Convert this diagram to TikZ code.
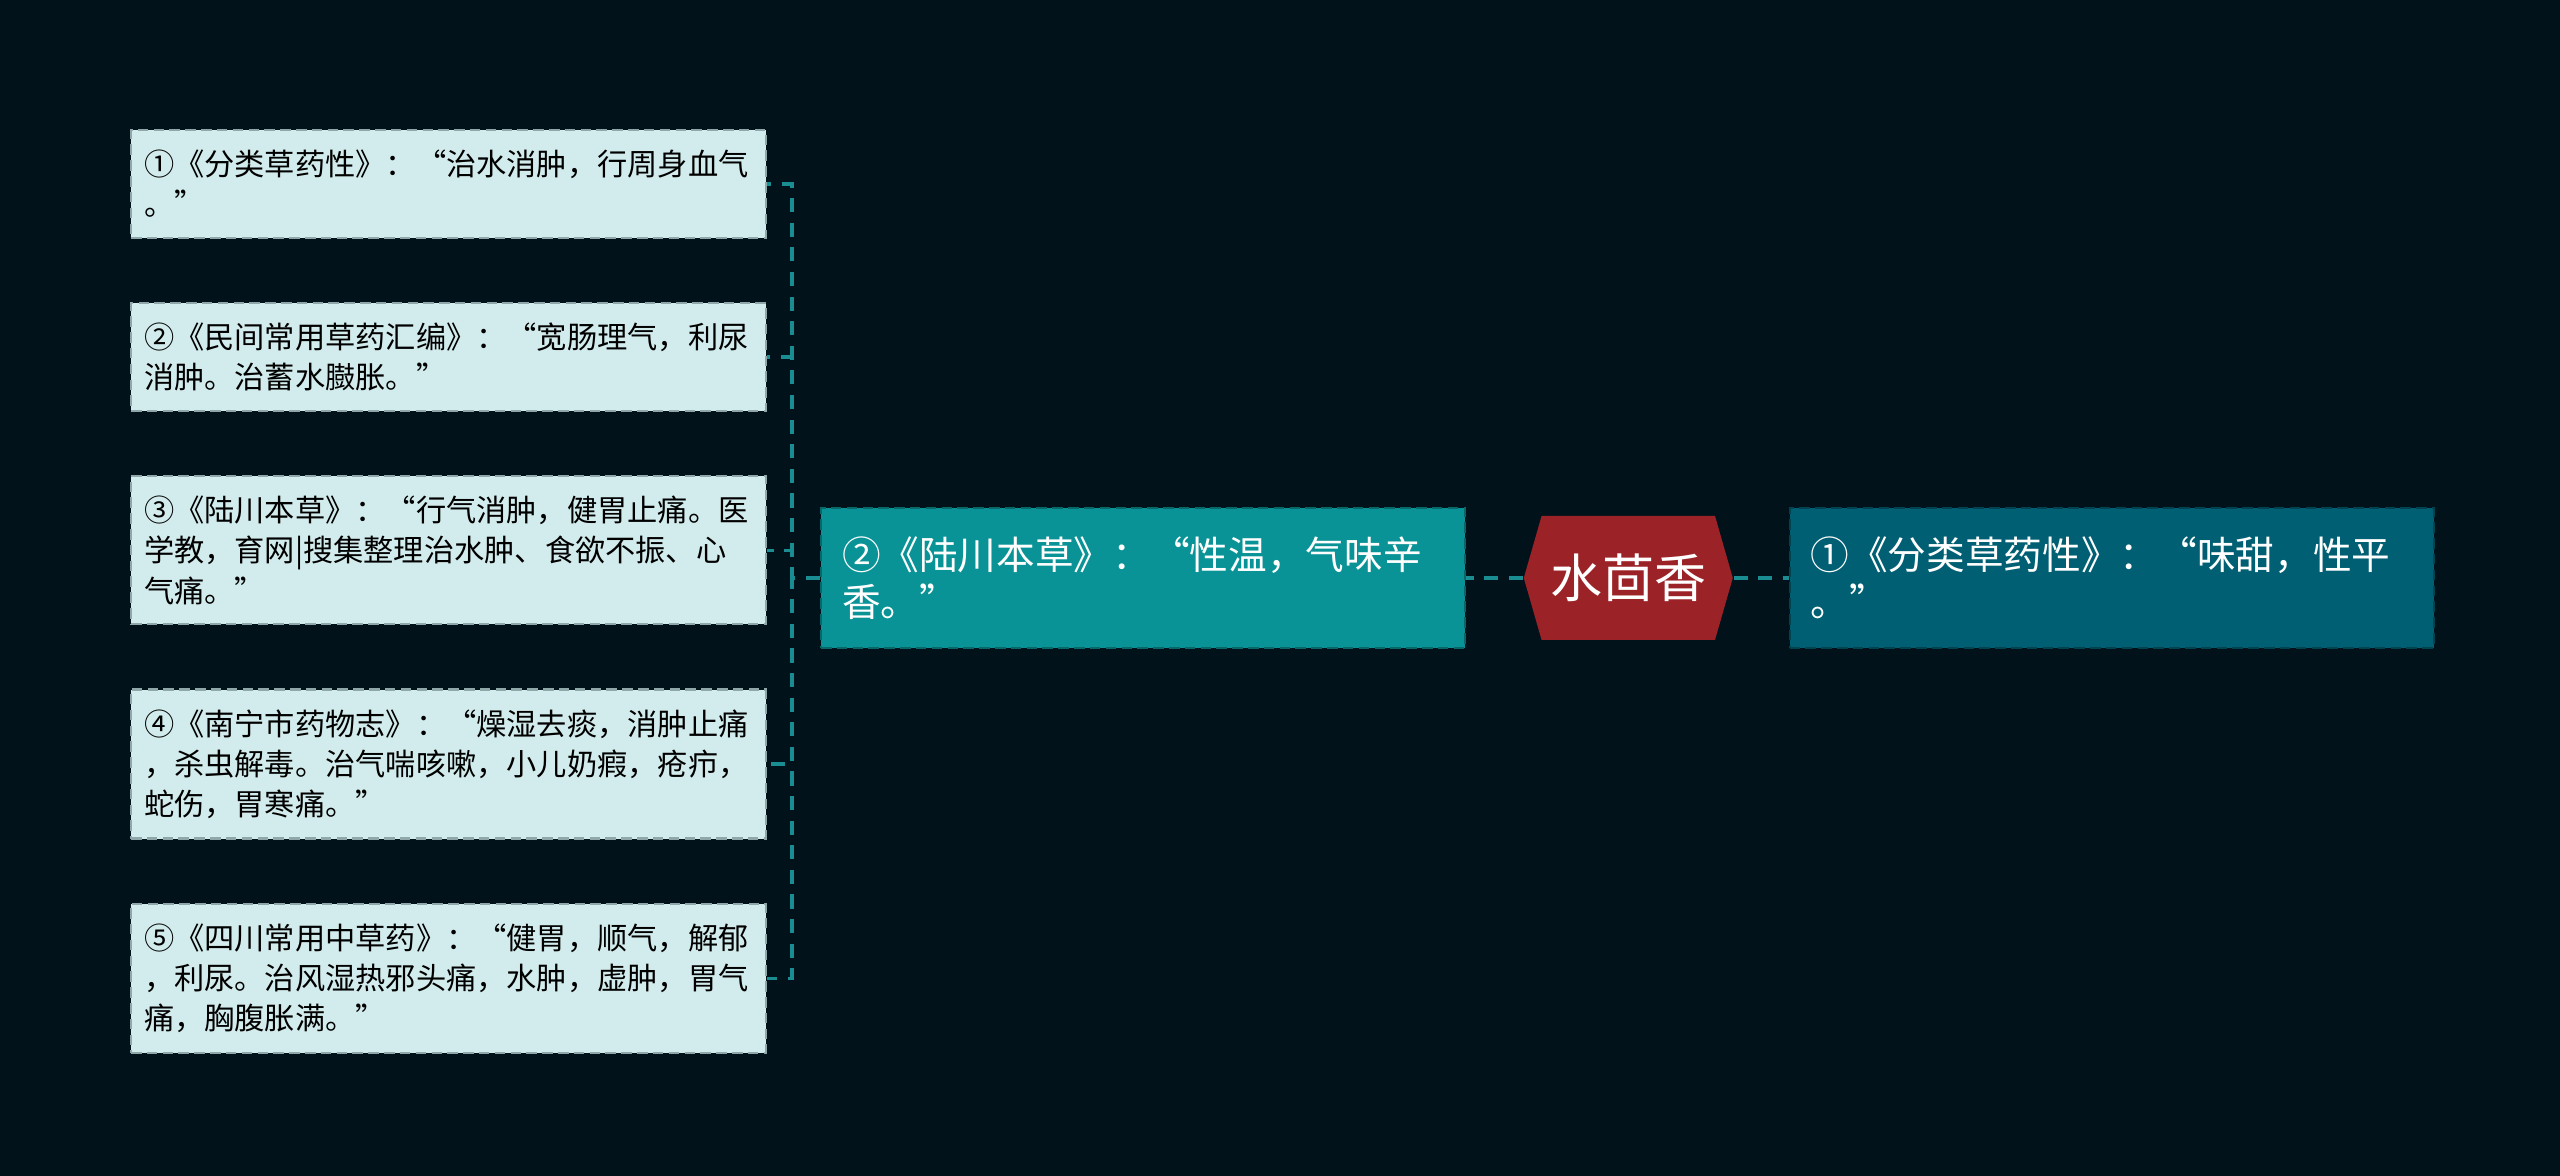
\documentclass[tikz,border=0pt]{standalone}
\usepackage{fontspec}
\setmainfont{Noto Sans CJK SC}
\usepackage{xcolor}
\usepackage{tikz}
\usetikzlibrary{positioning, shapes.symbols}
\definecolor{bgcolor}{HTML}{02121B}
\definecolor{leafcolor}{HTML}{D2EBEC}
\definecolor{leafline}{HTML}{8FA7A8}
\definecolor{midcolor}{HTML}{0A9396}
\definecolor{rightcolor}{HTML}{005F73}
\definecolor{rootcolor}{HTML}{9B2226}
\definecolor{linkcolor}{HTML}{1A8D93}

\tikzset{
  leafbox/.style={draw=leafline, fill=leafcolor, dash pattern=on 3pt off 1.5pt, line width=0.6pt,
    text width=6.09cm, inner xsep=0.13cm, inner ysep=0.2cm, align=left, text=black,
    font=\fontsize{8.6}{11.4}\selectfont},
  mainbox/.style={dash pattern=on 3pt off 1.5pt, line width=0.6pt, text=white,
    text width=6.02cm, inner xsep=0.21cm, minimum height=1.4cm, align=left,
    font=\fontsize{11}{13.4}\selectfont},
  rootnode/.style={shape=signal, signal to=east and west, signal pointer angle=148,
    fill=rootcolor, text=white, minimum width=2.09cm, minimum height=1.24cm,
    inner sep=0pt, font=\fontsize{14.8}{16}\selectfont},
  link/.style={draw=linkcolor, dash pattern=on 4pt off 3pt, line width=0.9pt}
}

\begin{document}
\begin{tikzpicture}
  % Background
  \fill[bgcolor] (0, 0) rectangle (25.6, 11.76);
  \useasboundingbox (0, 0) rectangle (25.6, 11.76);

  % Centre and first level
  \node[mainbox, draw=midcolor!70!black, fill=midcolor] (mid) at (11.43, 5.98)
    {②《陆川本草》：“性温，气味辛\\香。”};
  \node[rootnode, right=0.57cm of mid] (root) {水茴香};
  \node[mainbox, draw=rightcolor!70!black, fill=rightcolor, right=0.55cm of root] (right)
    {①《分类草药性》：“味甜，性平\\。”};

  % Leaves
  \node[leafbox] (leaf1) at (4.485, 9.92)
    {①《分类草药性》：“治水消肿，行周身血气\\。”};
  \node[leafbox, below=0.63cm of leaf1] (leaf2)
    {②《民间常用草药汇编》：“宽肠理气，利尿\\消肿。治蓄水臌胀。”};
  \node[leafbox, below=0.63cm of leaf2] (leaf3)
    {③《陆川本草》：“行气消肿，健胃止痛。医\\学教，育网|搜集整理治水肿、食欲不振、心\\气痛。”};
  \node[leafbox, below=0.63cm of leaf3] (leaf4)
    {④《南宁市药物志》：“燥湿去痰，消肿止痛\\，杀虫解毒。治气喘咳嗽，小儿奶瘕，疮疖，\\蛇伤，胃寒痛。”};
  \node[leafbox, below=0.63cm of leaf4] (leaf5)
    {⑤《四川常用中草药》：“健胃，顺气，解郁\\，利尿。治风湿热邪头痛，水肿，虚肿，胃气\\痛，胸腹胀满。”};

  % Connectors
  \coordinate (fork) at (7.92, 5.98);
  \draw[link] (root.west) -- (mid.east);
  \draw[link] (root.east) -- (right.west);
  \foreach \i in {1,...,5}
    \draw[link] (mid.west) -- (fork) |- (leaf\i.east);
\end{tikzpicture}
\end{document}
